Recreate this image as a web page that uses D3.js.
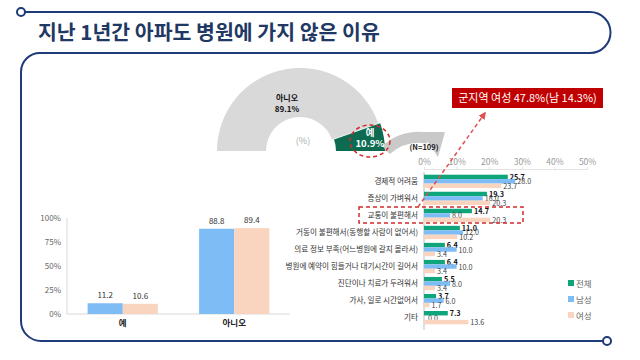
<!DOCTYPE html>
<html><head><meta charset="utf-8">
<script src="https://cdn.jsdelivr.net/npm/d3@7"></script>
<style>
html,body{margin:0;padding:0;background:#fff;}
svg{display:block;font-family:"Noto Sans CJK KR","Noto Sans",sans-serif;}
</style></head>
<body><svg id="c" width="640" height="360"></svg>
<script>
const titleText = "지난 1년간 아파도 병원에 가지 않은 이유";
// donut (semicircle)
const pieLabels = ["아니오", "예"];
const pieValues = [89.1, 10.9];
const pieN = "(N=109)";
const callout = "군지역 여성 47.8%(남 14.3%)";
// left chart
const leftCats = ["예", "아니오"];
const leftMale = [11.2, 88.8];
const leftFemale = [10.6, 89.4];
const leftTicks = [0, 25, 50, 75, 100];
// right chart
const reasons = ["경제적 어려움", "증상이 가벼워서", "교통이 불편해서", "거동이 불편해서(동행할 사람이 없어서)",
  "의료 정보 부족(어느병원에 갈지 몰라서)", "병원에 예약이 힘들거나 대기시간이 길어서", "진단이나 치료가 두려워서",
  "가사, 일로 시간없어서", "기타"];
const seriesNames = ["전체", "남성", "여성"];
const totalVals = [25.7, 19.3, 14.7, 11.0, 6.4, 6.4, 5.5, 3.7, 7.3];
const maleVals = [28.0, 18.0, 8.0, 12.0, 10.0, 10.0, 8.0, 6.0, 0.0];
const femaleVals = [23.7, 20.3, 20.3, 10.2, 3.4, 3.4, 3.4, 1.7, 13.6];
const rightTicks = [0, 10, 20, 30, 40, 50];

const svg = d3.select("#c");
const navy = "#1f3a78";
const cGreen = "#0fa57b", cBlue = "#7dbcf5", cPeach = "#f9d4bf";

// ---------- frame ----------
svg.append("path")
  .attr("d", "M21,12 L590,12 A20.5,20.5 0 0 1 590,53 L40,53 A19,19 0 0 0 21,72 L21,321 A20,20 0 0 0 41,341 L607,341")
  .attr("fill", "none").attr("stroke", navy).attr("stroke-width", 2);
[[21,12],[607,341]].forEach(p => svg.append("circle").attr("cx", p[0]).attr("cy", p[1]).attr("r", 4)
  .attr("fill", "#fff").attr("stroke", navy).attr("stroke-width", 2));
svg.append("text").attr("x", 38).attr("y", 40).attr("font-size", 20.5).attr("font-weight", "bold")
  .attr("fill", "#1f3864").text(titleText);

// ---------- semicircle ----------
const cx = 300, cy = 151, R = 83, r = 34;
const pie = d3.pie().sort(null).startAngle(-Math.PI/2).endAngle(Math.PI/2);
const arcs = pie(pieValues);
const arc = d3.arc().innerRadius(r).outerRadius(R);
const pg = svg.append("g").attr("transform", `translate(${cx},${cy})`);
pg.append("path").attr("d", arc(arcs[0])).attr("fill", "#d9d9d9");
pg.append("path").attr("d", arc(arcs[1])).attr("fill", "#0d6b52").attr("transform", "translate(2,0)");

// gray arrow
svg.append("path").attr("d", "M386,150 Q404,134 428,138").attr("fill", "none")
  .attr("stroke", "#c9c9c9").attr("stroke-width", 11);
svg.append("path").attr("d", "M421,132 L445,132 L438,157 Z").attr("fill", "#c9c9c9");
svg.append("text").attr("x", 424).attr("y", 150).attr("text-anchor", "middle").attr("font-size", 7.5)
  .attr("font-weight", "bold").attr("fill", "#222").text(pieN);

const c0 = arc.centroid(arcs[0]);
svg.append("text").attr("x", cx + c0[0] - 3).attr("y", cy + c0[1] + 8).attr("text-anchor", "middle")
  .attr("font-size", 8).attr("font-weight", "bold").attr("fill", "#111")
  .call(t => { t.append("tspan").attr("x", cx + c0[0] - 3).text(pieLabels[0]);
               t.append("tspan").attr("x", cx + c0[0] - 3).attr("dy", 11).text(pieValues[0].toFixed(1) + "%"); });
svg.append("text").attr("x", cx + 70).attr("y", 136).attr("text-anchor", "middle")
  .attr("font-size", 9.5).attr("font-weight", "bold").attr("fill", "#fff")
  .call(t => { t.append("tspan").attr("x", cx + 70).text(pieLabels[1]);
               t.append("tspan").attr("x", cx + 70).attr("dy", 11).text(pieValues[1].toFixed(1) + "%"); });
svg.append("text").attr("x", cx + 3).attr("y", 144).attr("text-anchor", "middle").attr("font-size", 9)
  .attr("fill", "#aaa").text("(%)");
svg.append("ellipse").attr("cx", 370).attr("cy", 141).attr("rx", 20).attr("ry", 16)
  .attr("fill", "none").attr("stroke", "#d42a2a").attr("stroke-width", 1.5).attr("stroke-dasharray", "4,3");

// ---------- left chart ----------
const lx = d3.scaleBand().domain(leftCats).range([67, 290]).paddingInner(0.37).paddingOuter(0.185);
const ly = d3.scaleLinear().domain([0, 100]).range([314, 218]);
const lsub = d3.scaleBand().domain(["m", "f"]).range([0, lx.bandwidth()]);
const lg = svg.append("g");
lg.append("line").attr("x1", 67).attr("x2", 67).attr("y1", 218).attr("y2", 314).attr("stroke", "#d9d9d9");
lg.append("line").attr("x1", 67).attr("x2", 290).attr("y1", 314).attr("y2", 314).attr("stroke", "#d9d9d9");
const lyAxis = lg.append("g").attr("transform", "translate(67,0)")
  .call(d3.axisLeft(ly).tickValues(leftTicks).tickFormat(d => d + "%").tickSize(0).tickPadding(6));
lyAxis.select(".domain").remove();
lyAxis.selectAll("text").attr("font-size", 8).attr("fill", "#666").attr("font-family", "Noto Sans CJK KR");
leftCats.forEach((c, i) => {
  [["m", leftMale[i], cBlue], ["f", leftFemale[i], cPeach]].forEach(([k, v, col]) => {
    const x = lx(c) + lsub(k);
    lg.append("rect").attr("x", x).attr("y", ly(v)).attr("width", lsub.bandwidth()).attr("height", ly(0) - ly(v)).attr("fill", col);
    lg.append("text").attr("x", x + lsub.bandwidth()/2).attr("y", ly(v) - 5).attr("text-anchor", "middle")
      .attr("font-size", 8).attr("fill", "#333").text(v.toFixed(1));
  });
  lg.append("text").attr("x", lx(c) + lx.bandwidth()/2).attr("y", 326).attr("text-anchor", "middle")
    .attr("font-size", 8.5).attr("font-weight", "bold").attr("fill", "#222").text(c);
});

// ---------- right chart ----------
const rx = d3.scaleLinear().domain([0, 50]).range([424, 587]);
const ry = d3.scaleBand().domain(reasons).range([173, 326]).paddingInner(0.22).paddingOuter(0.1);
const rsub = d3.scaleBand().domain(seriesNames).range([0, ry.bandwidth()]);
const rg = svg.append("g");
const rxAxis = rg.append("g").attr("transform", "translate(0,169)")
  .call(d3.axisTop(rx).tickValues(rightTicks).tickFormat(d => d + "%").tickSize(2).tickPadding(2));
rxAxis.select(".domain").attr("stroke", "#e3e3e3");
rxAxis.selectAll("line").attr("stroke", "#e3e3e3");
rxAxis.selectAll("text").attr("font-size", 8.5).attr("fill", "#999").attr("font-family", "Noto Sans CJK KR");
rg.append("line").attr("x1", 424).attr("x2", 424).attr("y1", 172).attr("y2", 330).attr("stroke", "#bdbdbd");

const series = [[totalVals, cGreen, "bold", "#111"], [maleVals, cBlue, "normal", "#444"], [femaleVals, cPeach, "normal", "#444"]];
reasons.forEach((c, i) => {
  series.forEach(([vals, col, fw, tc], j) => {
    const y = ry(c) + rsub(seriesNames[j]);
    const v = vals[i];
    rg.append("rect").attr("x", rx(0)).attr("y", y).attr("width", rx(v) - rx(0)).attr("height", rsub.bandwidth()).attr("fill", col);
    rg.append("text").attr("x", rx(v) + (v === 0 ? 4 : 2)).attr("y", y + rsub.bandwidth()/2 + 3)
      .attr("font-size", 7.2).attr("font-weight", fw).attr("fill", tc).text(v.toFixed(1));
  });
  rg.append("text").attr("x", 418).attr("y", ry(c) + ry.bandwidth()/2 + 2.5).attr("text-anchor", "end")
    .attr("font-size", 7.6).attr("fill", "#333").text(c);
});

// legend
[cGreen, cBlue, cPeach].forEach((col, j) => {
  const y = 283 + j * 16;
  svg.append("rect").attr("x", 568).attr("y", y - 3).attr("width", 6).attr("height", 6).attr("fill", col);
  svg.append("text").attr("x", 576).attr("y", y + 3.5).attr("font-size", 8.5).attr("fill", "#666").text(seriesNames[j]);
});

// red dashed highlight
svg.append("rect").attr("x", 359).attr("y", 207).attr("width", 164).attr("height", 16)
  .attr("fill", "none").attr("stroke", "#d42a2a").attr("stroke-width", 1.5).attr("stroke-dasharray", "4,3");
svg.append("defs").append("marker").attr("id", "ah").attr("viewBox", "0 0 10 10").attr("refX", 8).attr("refY", 5)
  .attr("markerWidth", 5).attr("markerHeight", 5).attr("orient", "auto")
  .append("path").attr("d", "M0,0 L10,5 L0,10 Z").attr("fill", "#e05050");
svg.append("line").attr("x1", 418).attr("y1", 207).attr("x2", 485).attr("y2", 113)
  .attr("stroke", "#e05050").attr("stroke-width", 1.5).attr("stroke-dasharray", "4,3").attr("marker-end", "url(#ah)");
svg.append("rect").attr("x", 452).attr("y", 88).attr("width", 151).attr("height", 20).attr("fill", "#c00000");
svg.append("text").attr("x", 527.5).attr("y", 102).attr("text-anchor", "middle").attr("font-size", 11)
  .attr("fill", "#fff").text(callout);
</script></body></html>
